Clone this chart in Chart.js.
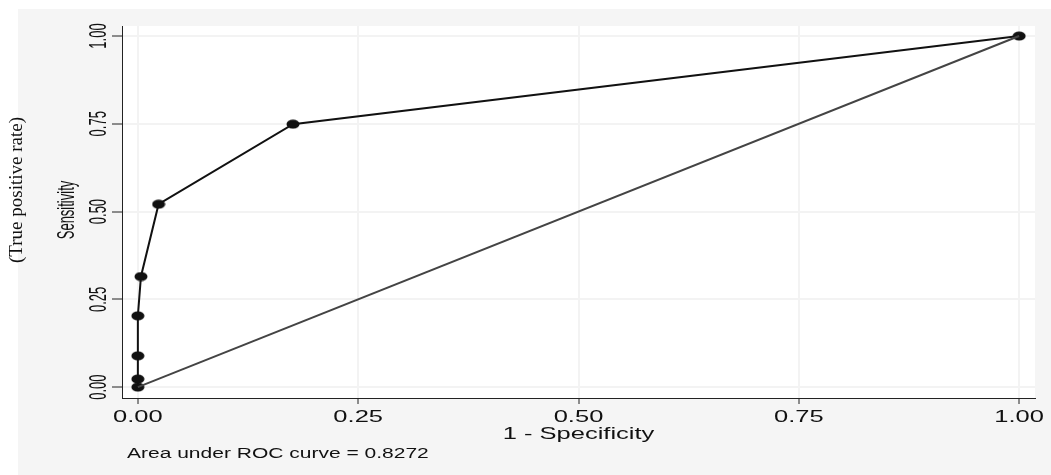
<!DOCTYPE html>
<html>
<head>
<meta charset="utf-8">
<script src="https://cdn.jsdelivr.net/npm/chart.js@4/dist/chart.umd.min.js"></script>
<style>
  html, body { margin: 0; padding: 0; background: #fff; }
  #wrap { width: 1051px; height: 475px; }
</style>
</head>
<body>
<div id="wrap"><canvas id="myChart"></canvas></div>
<script>
// ROC points
var fpr = [0, 0, 0, 0, 0.0035, 0.0235, 0.176, 1];
var tpr = [0, 0.023, 0.089, 0.203, 0.315, 0.521, 0.749, 1];
// reference diagonal
var refX = [0, 1];
var refY = [0, 1];
var xTicks = [0, 0.25, 0.5, 0.75, 1];
var yTicks = [0, 0.25, 0.5, 0.75, 1];
var xTickLabels = ['0.00', '0.25', '0.50', '0.75', '1.00'];
var yTickLabels = ['0.00', '0.25', '0.50', '0.75', '1.00'];
var aucText = 'Area under ROC curve = 0.8272';

var STRETCH = 1.5;   // the picture is stretched sideways
var STRETCH_ROT = 1.8; // rotated texts look squashed even more

// ellipse marker
var dot = document.createElement('canvas');
dot.width = 14; dot.height = 10;
var dc = dot.getContext('2d');
dc.fillStyle = '#111';
dc.beginPath();
dc.ellipse(7, 5, 6.5, 4.5, 0, 0, Math.PI * 2);
dc.fill();

function toPoints(xs, ys) {
    return xs.map(function (x, i) { return { x: x, y: ys[i] }; });
}

function drawText(ctx, text, x, y, font, rotate, sx) {
    ctx.save();
    ctx.translate(x, y);
    ctx.scale(sx, 1);
    if (rotate) ctx.rotate(-Math.PI / 2);
    ctx.font = font;
    ctx.fillStyle = '#111';
    ctx.textAlign = 'center';
    ctx.textBaseline = 'middle';
    ctx.fillText(text, 0, 0);
    ctx.restore();
}

var backgrounds = {
    id: 'backgrounds',
    beforeDraw: function (chart) {
        var ctx = chart.ctx, a = chart.chartArea;
        ctx.save();
        ctx.fillStyle = '#f5f5f5';
        ctx.fillRect(18, 9, chart.width - 18, chart.height - 9);
        ctx.fillStyle = '#ffffff';
        ctx.fillRect(a.left, a.top, a.right - a.left, a.bottom - a.top);
        ctx.restore();
    },
    afterDraw: function (chart) {
        var ctx = chart.ctx, xs = chart.scales.x, ys = chart.scales.y;
        var sansBig = '17px "Liberation Sans", Arial, sans-serif';
        xTicks.forEach(function (v, i) {
            drawText(ctx, xTickLabels[i], xs.getPixelForValue(v), 417, sansBig, false, STRETCH);
        });
        yTicks.forEach(function (v, i) {
            drawText(ctx, yTickLabels[i], 100, ys.getPixelForValue(v), '13px "Liberation Sans", Arial, sans-serif', true, STRETCH_ROT);
        });
        drawText(ctx, '1 - Specificity', (chart.chartArea.left + chart.chartArea.right) / 2, 434, sansBig, false, STRETCH);
        drawText(ctx, 'Sensitivity', 68, 210, '13px "Liberation Sans", Arial, sans-serif', true, STRETCH_ROT);
        drawText(ctx, '(True positive rate)', 17, 190, '19px "Liberation Serif", "Times New Roman", serif', true, 1);
        ctx.save();
        ctx.font = '14px "Liberation Sans", Arial, sans-serif';
        var w = ctx.measureText(aucText).width * STRETCH;
        ctx.restore();
        drawText(ctx, aucText, 127 + w / 2, 454, '14px "Liberation Sans", Arial, sans-serif', false, STRETCH);
    }
};

var element = document.getElementById('myChart').getContext('2d');

var chartData = {
    datasets: [{
        label: 'Reference',
        data: toPoints(refX, refY),
        showLine: true,
        borderColor: '#444444',
        borderWidth: 2,
        pointRadius: 0,
        pointHoverRadius: 0
    }, {
        label: 'ROC',
        data: toPoints(fpr, tpr),
        showLine: true,
        borderColor: '#111111',
        borderWidth: 2,
        pointStyle: dot,
        pointRadius: 6
    }]
};

var chartOptions = {
    responsive: true,
    maintainAspectRatio: false,
    animation: false,
    layout: { padding: { left: 0, top: 26, right: 16, bottom: 0 } },
    plugins: { legend: { display: false }, tooltip: { enabled: false } },
    scales: {
        x: {
            type: 'linear',
            min: -0.018,
            max: 1.018,
            afterBuildTicks: function (scale) {
                scale.ticks = xTicks.map(function (v) { return { value: v }; });
            },
            afterFit: function (scale) { scale.height = 77; },
            ticks: { display: false },
            grid: { color: '#f3f3f3', lineWidth: 2, tickColor: '#222', tickLength: 6, tickWidth: 1 },
            border: { color: '#222', width: 1 }
        },
        y: {
            type: 'linear',
            min: -0.031,
            max: 1.0285,
            afterBuildTicks: function (scale) {
                scale.ticks = yTicks.map(function (v) { return { value: v }; });
            },
            afterFit: function (scale) { scale.width = 122; },
            ticks: { display: false },
            grid: { color: '#f3f3f3', lineWidth: 2, tickColor: '#222', tickLength: 10, tickWidth: 1 },
            border: { color: '#222', width: 1 }
        }
    }
};

var chart = new Chart(element, { type: 'scatter', data: chartData, options: chartOptions, plugins: [backgrounds] });
</script>
</body>
</html>
